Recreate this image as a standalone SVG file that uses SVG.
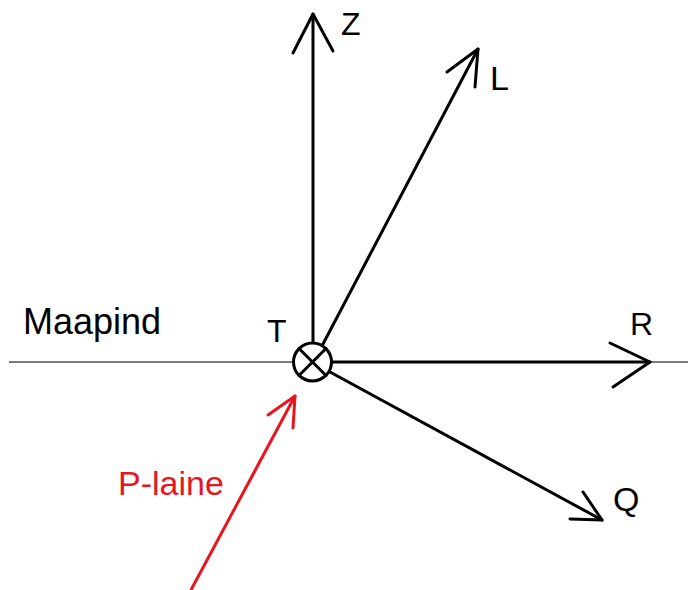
<svg xmlns="http://www.w3.org/2000/svg" width="688" height="590" viewBox="0 0 688 590">
<style>
.ax{fill:none;stroke:#000;stroke-width:3;stroke-linecap:round;stroke-linejoin:round}
.red{fill:none;stroke:#e8151f;stroke-width:3;stroke-linecap:round;stroke-linejoin:round}
.lbl{font-family:"Liberation Sans",Arial,sans-serif;font-size:32px;fill:#000}
</style>
<rect width="688" height="590" fill="#fff"/>
<g id="ground">
<line x1="9" y1="362" x2="688" y2="362" stroke="#7a7a7a" stroke-width="2"/>
<text class="lbl" x="23" y="334" style="font-size:36px">Maapind</text>
</g>
<g id="connectors">
<line class="ax" x1="313" y1="343" x2="313" y2="14"/>
<polyline class="ax" points="293,53 313,14 333,51"/>
<line class="ax" x1="323" y1="344" x2="478" y2="49"/>
<polyline class="ax" points="447,72 478,49 475,87"/>
<line class="ax" x1="332" y1="362" x2="650" y2="362"/>
<polyline class="ax" points="610,343 650,362 613,387"/>
<line class="ax" x1="330" y1="372" x2="602" y2="520"/>
<polyline class="ax" points="583,492 602,520 570,519"/>
<line class="red" x1="191" y1="590" x2="295" y2="396"/>
<polyline class="red" points="268,415 295,396 293,428"/>
</g>
<g id="T">
<circle cx="312.5" cy="362" r="19" fill="#fff" stroke="#000" stroke-width="3"/>
<line class="ax" x1="299" y1="348.5" x2="326" y2="375.5"/>
<line class="ax" x1="326" y1="348.5" x2="299" y2="375.5"/>
<text class="lbl" x="267" y="342">T</text>
</g>
<g id="Z"><text class="lbl" x="341" y="35">Z</text></g>
<g id="L"><text class="lbl" x="490" y="90" style="font-size:34px">L</text></g>
<g id="R"><text class="lbl" x="630" y="335">R</text></g>
<g id="Q"><text class="lbl" x="613" y="511" style="font-size:34px">Q</text></g>
<g id="P"><text class="lbl" x="118" y="495" style="font-size:34px;fill:#e8151f">P-laine</text></g>
</svg>
